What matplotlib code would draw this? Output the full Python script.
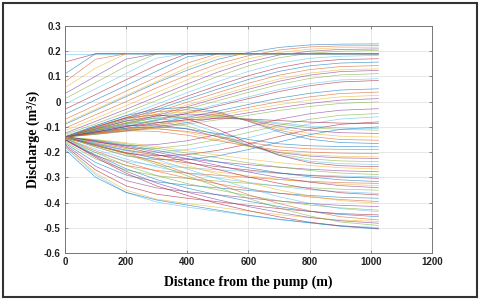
import matplotlib
matplotlib.use("Agg")
import matplotlib.pyplot as plt
from matplotlib.patches import Rectangle

# distance along the pipe where each profile was read (m)
x_dist = [0, 100, 200, 300, 400, 500, 600, 700, 800, 900, 1025]

# profiles that climb up to the 0.19 m3/s ceiling and stay there
q_capped = [
    [0.19, 0.19, 0.19, 0.19, 0.19, 0.19, 0.19, 0.19, 0.19, 0.19, 0.19],
    [0.157, 0.19, 0.19, 0.19, 0.19, 0.19, 0.19, 0.19, 0.19, 0.19, 0.19],
    [0.11, 0.19, 0.19, 0.19, 0.19, 0.19, 0.19, 0.19, 0.19, 0.19, 0.19],
    [0.079, 0.168, 0.19, 0.19, 0.19, 0.19, 0.19, 0.19, 0.19, 0.19, 0.19],
    [0.055, 0.133, 0.19, 0.19, 0.19, 0.19, 0.19, 0.19, 0.19, 0.19, 0.19],
    [0.032, 0.101, 0.169, 0.19, 0.19, 0.19, 0.19, 0.19, 0.19, 0.19, 0.19],
    [0.012, 0.076, 0.14, 0.19, 0.19, 0.19, 0.19, 0.19, 0.19, 0.19, 0.19],
    [-0.01, 0.051, 0.112, 0.173, 0.19, 0.19, 0.19, 0.19, 0.19, 0.19, 0.19],
    [-0.03, 0.028, 0.087, 0.145, 0.19, 0.19, 0.19, 0.19, 0.19, 0.19, 0.19],
    [-0.05, 0.007, 0.064, 0.121, 0.178, 0.19, 0.19, 0.19, 0.19, 0.19, 0.19],
    [-0.07, -0.014, 0.042, 0.097, 0.153, 0.19, 0.19, 0.19, 0.19, 0.19, 0.19],
    [-0.085, -0.03, 0.025, 0.08, 0.135, 0.18, 0.19, 0.19, 0.19, 0.19, 0.19],
]

# profiles rising from the pump end towards the far end
q_rising = [
    [-0.09, -0.035, 0.02, 0.075, 0.125, 0.168, 0.195, 0.215, 0.225, 0.228, 0.229],
    [-0.105, -0.052, 0.0, 0.055, 0.105, 0.15, 0.182, 0.205, 0.217, 0.221, 0.222],
    [-0.115, -0.066, -0.016, 0.036, 0.087, 0.133, 0.17, 0.195, 0.208, 0.214, 0.216],
    [-0.125, -0.078, -0.03, 0.02, 0.07, 0.117, 0.157, 0.185, 0.2, 0.207, 0.209],
    [-0.13, -0.088, -0.043, 0.005, 0.054, 0.1, 0.142, 0.174, 0.192, 0.2, 0.203],
    [-0.135, -0.096, -0.055, -0.01, 0.036, 0.08, 0.12, 0.152, 0.172, 0.18, 0.183],
    [-0.14, -0.103, -0.064, -0.022, 0.022, 0.064, 0.103, 0.135, 0.157, 0.167, 0.17],
    [-0.14, -0.106, -0.07, -0.031, 0.01, 0.05, 0.088, 0.12, 0.142, 0.153, 0.157],
    [-0.14, -0.11, -0.077, -0.04, -0.002, 0.036, 0.073, 0.105, 0.127, 0.139, 0.143],
    [-0.14, -0.113, -0.083, -0.049, -0.013, 0.023, 0.058, 0.09, 0.113, 0.126, 0.13],
    [-0.14, -0.115, -0.087, -0.055, -0.02, 0.015, 0.049, 0.081, 0.105, 0.119, 0.124],
    [-0.14, -0.117, -0.091, -0.061, -0.029, 0.004, 0.037, 0.068, 0.092, 0.106, 0.111],
    [-0.14, -0.12, -0.097, -0.07, -0.041, -0.011, 0.019, 0.048, 0.071, 0.086, 0.091],
    [-0.14, -0.121, -0.099, -0.074, -0.046, -0.017, 0.012, 0.04, 0.063, 0.078, 0.084],
    [-0.14, -0.124, -0.106, -0.085, -0.062, -0.037, -0.011, 0.014, 0.033, 0.046, 0.051],
    [-0.14, -0.126, -0.11, -0.091, -0.07, -0.047, -0.023, 0.0, 0.019, 0.032, 0.038],
    [-0.14, -0.127, -0.112, -0.095, -0.076, -0.055, -0.033, -0.012, 0.006, 0.019, 0.025],
    [-0.14, -0.129, -0.116, -0.1, -0.083, -0.064, -0.044, -0.024, -0.007, 0.006, 0.012],
    [-0.14, -0.13, -0.118, -0.104, -0.089, -0.072, -0.054, -0.035, -0.019, -0.007, -0.001],
]

# profiles that dip then recover, or bulge then drop (the crossing pattern)
q_crossing = [
    [-0.14, -0.16, -0.175, -0.17, -0.155, -0.13, -0.1, -0.07, -0.048, -0.034, -0.028],
    [-0.14, -0.165, -0.185, -0.185, -0.172, -0.15, -0.122, -0.094, -0.07, -0.054, -0.047],
    [-0.14, -0.17, -0.195, -0.2, -0.19, -0.17, -0.143, -0.113, -0.088, -0.069, -0.06],
    [-0.14, -0.175, -0.205, -0.215, -0.21, -0.193, -0.168, -0.138, -0.11, -0.09, -0.08],
    [-0.14, -0.18, -0.215, -0.23, -0.23, -0.215, -0.19, -0.16, -0.131, -0.11, -0.1],
    [-0.14, -0.125, -0.115, -0.118, -0.133, -0.155, -0.176, -0.192, -0.2, -0.204, -0.206],
    [-0.14, -0.12, -0.105, -0.105, -0.122, -0.15, -0.178, -0.199, -0.211, -0.217, -0.219],
    [-0.14, -0.115, -0.095, -0.092, -0.108, -0.14, -0.175, -0.202, -0.216, -0.223, -0.225],
    [-0.14, -0.11, -0.085, -0.08, -0.097, -0.133, -0.175, -0.208, -0.227, -0.235, -0.238],
    [-0.14, -0.105, -0.075, -0.066, -0.083, -0.123, -0.172, -0.212, -0.236, -0.246, -0.249],
    [-0.14, -0.1, -0.065, -0.052, -0.068, -0.11, -0.165, -0.213, -0.242, -0.254, -0.258],
    [-0.14, -0.095, -0.055, -0.03, -0.022, -0.04, -0.078, -0.12, -0.149, -0.162, -0.166],
    [-0.14, -0.1, -0.062, -0.04, -0.032, -0.045, -0.077, -0.113, -0.138, -0.15, -0.153],
    [-0.14, -0.105, -0.07, -0.049, -0.041, -0.05, -0.075, -0.105, -0.126, -0.137, -0.14],
    [-0.14, -0.108, -0.077, -0.057, -0.049, -0.054, -0.073, -0.097, -0.114, -0.123, -0.126],
    [-0.14, -0.112, -0.084, -0.065, -0.056, -0.058, -0.071, -0.089, -0.103, -0.11, -0.113],
    [-0.14, -0.116, -0.091, -0.073, -0.063, -0.062, -0.07, -0.084, -0.097, -0.104, -0.107],
    [-0.14, -0.12, -0.099, -0.083, -0.072, -0.067, -0.069, -0.075, -0.081, -0.085, -0.087],
    [-0.14, -0.12, -0.105, -0.1, -0.108, -0.127, -0.15, -0.167, -0.175, -0.178, -0.179],
    [-0.14, -0.123, -0.11, -0.108, -0.118, -0.138, -0.162, -0.179, -0.187, -0.189, -0.19],
]

# profiles falling away to the bottom of the chart
q_falling = [
    [-0.14, -0.15, -0.163, -0.178, -0.195, -0.211, -0.228, -0.242, -0.253, -0.262, -0.267],
    [-0.14, -0.168, -0.192, -0.212, -0.227, -0.239, -0.25, -0.26, -0.268, -0.274, -0.278],
    [-0.14, -0.152, -0.167, -0.185, -0.204, -0.223, -0.243, -0.259, -0.273, -0.283, -0.289],
    [-0.15, -0.202, -0.236, -0.254, -0.262, -0.27, -0.277, -0.285, -0.291, -0.295, -0.298],
    [-0.14, -0.173, -0.202, -0.225, -0.243, -0.258, -0.271, -0.283, -0.293, -0.299, -0.304],
    [-0.14, -0.154, -0.172, -0.193, -0.216, -0.239, -0.262, -0.282, -0.298, -0.31, -0.317],
    [-0.155, -0.214, -0.253, -0.273, -0.283, -0.292, -0.3, -0.309, -0.316, -0.321, -0.324],
    [-0.14, -0.179, -0.213, -0.24, -0.262, -0.279, -0.294, -0.308, -0.319, -0.327, -0.333],
    [-0.14, -0.156, -0.176, -0.2, -0.226, -0.253, -0.279, -0.301, -0.319, -0.333, -0.341],
    [-0.16, -0.227, -0.271, -0.294, -0.305, -0.315, -0.324, -0.334, -0.341, -0.347, -0.351],
    [-0.145, -0.189, -0.228, -0.259, -0.283, -0.303, -0.32, -0.336, -0.349, -0.357, -0.364],
    [-0.14, -0.158, -0.181, -0.209, -0.239, -0.269, -0.299, -0.324, -0.345, -0.361, -0.37],
    [-0.165, -0.241, -0.291, -0.318, -0.331, -0.342, -0.352, -0.363, -0.372, -0.379, -0.383],
    [-0.145, -0.195, -0.24, -0.276, -0.303, -0.326, -0.346, -0.363, -0.378, -0.388, -0.396],
    [-0.14, -0.161, -0.187, -0.219, -0.253, -0.287, -0.321, -0.35, -0.374, -0.392, -0.403],
    [-0.17, -0.256, -0.313, -0.342, -0.357, -0.369, -0.382, -0.394, -0.404, -0.411, -0.416],
    [-0.145, -0.202, -0.253, -0.293, -0.325, -0.35, -0.373, -0.393, -0.41, -0.421, -0.43],
    [-0.14, -0.164, -0.193, -0.229, -0.267, -0.306, -0.344, -0.377, -0.403, -0.424, -0.436],
    [-0.175, -0.271, -0.334, -0.367, -0.383, -0.397, -0.411, -0.424, -0.435, -0.444, -0.449],
    [-0.15, -0.211, -0.266, -0.309, -0.343, -0.37, -0.395, -0.416, -0.435, -0.447, -0.456],
    [-0.145, -0.171, -0.203, -0.242, -0.284, -0.326, -0.369, -0.404, -0.433, -0.456, -0.469],
    [-0.18, -0.283, -0.351, -0.387, -0.404, -0.419, -0.434, -0.448, -0.46, -0.469, -0.475],
    [-0.15, -0.216, -0.276, -0.323, -0.359, -0.389, -0.416, -0.439, -0.459, -0.472, -0.482],
    [-0.145, -0.173, -0.207, -0.249, -0.294, -0.339, -0.384, -0.422, -0.453, -0.477, -0.491],
    [-0.18, -0.29, -0.36, -0.398, -0.418, -0.435, -0.452, -0.468, -0.481, -0.492, -0.499],
    [-0.15, -0.221, -0.284, -0.334, -0.372, -0.404, -0.432, -0.457, -0.478, -0.492, -0.503],
    [-0.19, -0.3, -0.36, -0.39, -0.41, -0.43, -0.45, -0.466, -0.48, -0.494, -0.505],
]

y_ticks = [-0.6, -0.5, -0.4, -0.3, -0.2, -0.1, 0, 0.1, 0.2, 0.3]
y_tick_labels = ["-0.6", "-0.5", "-0.4", "-0.3", "-0.2", "-0.1", "0", "0.1", "0.2", "0.3"]
x_ticks = [0, 200, 400, 600, 800, 1000, 1200]

# MATLAB default line colour order
matlab_colors = ["#0072BD", "#D95319", "#EDB120", "#7E2F8E", "#77AC30", "#4DBEEE", "#A2142F"]


def create_plot(fileName="out.png"):
    fig = plt.figure(figsize=(4.8, 3.0), dpi=100)
    ax = fig.add_axes([0.1354, 0.1567, 0.7646, 0.7567])

    profiles = q_rising + q_capped + q_crossing + q_falling
    for i, q in enumerate(profiles):
        ax.plot(x_dist, q, color=matlab_colors[i % len(matlab_colors)],
                lw=0.5, alpha=0.65)

    ax.set_xlim(0, 1200)
    ax.set_ylim(-0.6, 0.3)
    ax.set_xticks(x_ticks)
    ax.set_xticklabels([str(t) for t in x_ticks])
    ax.set_yticks(y_ticks)
    ax.set_yticklabels(y_tick_labels)

    ax.grid(True, color="#e3e3e3", lw=0.6)
    ax.set_axisbelow(True)
    for side in ax.spines:
        ax.spines[side].set_color("#777777")
        ax.spines[side].set_linewidth(0.7)
    ax.tick_params(direction="in", length=2.5, width=0.6, color="#777777",
                   top=True, right=True, labelsize=7, labelcolor="#222222", pad=3)
    for lab in ax.get_xticklabels() + ax.get_yticklabels():
        lab.set_fontfamily("Liberation Sans")
        lab.set_fontweight("bold")

    ax.set_xlabel("Distance from the pump (m)", family="Liberation Serif",
                  fontweight="bold", fontsize=10, labelpad=6)
    ax.set_ylabel("Discharge (m³/s)", family="Liberation Serif",
                  fontweight="bold", fontsize=10, labelpad=3)

    # dark frame round the whole picture
    fig.patches.append(Rectangle((0.00625, 0.011), 0.9875, 0.978, transform=fig.transFigure,
                                 fill=False, ec="#333333", lw=1.5))

    fig.savefig(fileName, dpi=100)


if __name__ == "__main__":
    create_plot()
